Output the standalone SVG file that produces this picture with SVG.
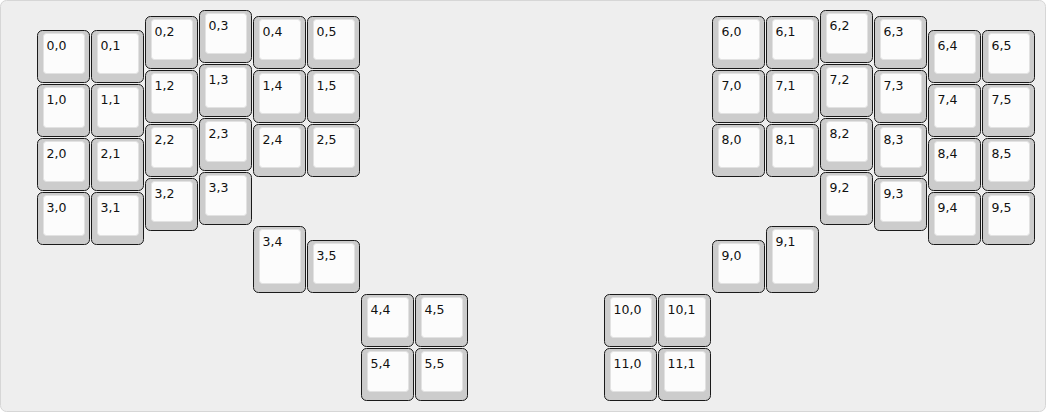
<svg xmlns="http://www.w3.org/2000/svg" width="1046" height="412" viewBox="0 0 1046 412">
<style>
.o{fill:#cccccc;stroke:#1a1a1a;stroke-width:1}
.i{fill:#fcfcfc;stroke:#e2e2e2;stroke-width:1}
.t{font-family:"DejaVu Sans","Liberation Sans",sans-serif;font-size:12.5px;fill:#111}
</style>
<rect x="0.5" y="0.5" width="1045" height="411" rx="6" fill="#eeeeee" stroke="#d6d6d6"/>
<g id="k0_0" transform="translate(37,30)"><rect class="o" x="0.5" y="0.5" width="52" height="52" rx="5"/><rect class="i" x="6.5" y="3.5" width="41" height="40" rx="3"/><text class="t" x="9.5" y="20">0,0</text></g>
<g id="k1_0" transform="translate(37,84)"><rect class="o" x="0.5" y="0.5" width="52" height="52" rx="5"/><rect class="i" x="6.5" y="3.5" width="41" height="40" rx="3"/><text class="t" x="9.5" y="20">1,0</text></g>
<g id="k2_0" transform="translate(37,138)"><rect class="o" x="0.5" y="0.5" width="52" height="52" rx="5"/><rect class="i" x="6.5" y="3.5" width="41" height="40" rx="3"/><text class="t" x="9.5" y="20">2,0</text></g>
<g id="k3_0" transform="translate(37,192)"><rect class="o" x="0.5" y="0.5" width="52" height="52" rx="5"/><rect class="i" x="6.5" y="3.5" width="41" height="40" rx="3"/><text class="t" x="9.5" y="20">3,0</text></g>
<g id="k0_1" transform="translate(91,30)"><rect class="o" x="0.5" y="0.5" width="52" height="52" rx="5"/><rect class="i" x="6.5" y="3.5" width="41" height="40" rx="3"/><text class="t" x="9.5" y="20">0,1</text></g>
<g id="k1_1" transform="translate(91,84)"><rect class="o" x="0.5" y="0.5" width="52" height="52" rx="5"/><rect class="i" x="6.5" y="3.5" width="41" height="40" rx="3"/><text class="t" x="9.5" y="20">1,1</text></g>
<g id="k2_1" transform="translate(91,138)"><rect class="o" x="0.5" y="0.5" width="52" height="52" rx="5"/><rect class="i" x="6.5" y="3.5" width="41" height="40" rx="3"/><text class="t" x="9.5" y="20">2,1</text></g>
<g id="k3_1" transform="translate(91,192)"><rect class="o" x="0.5" y="0.5" width="52" height="52" rx="5"/><rect class="i" x="6.5" y="3.5" width="41" height="40" rx="3"/><text class="t" x="9.5" y="20">3,1</text></g>
<g id="k0_2" transform="translate(145,16)"><rect class="o" x="0.5" y="0.5" width="52" height="52" rx="5"/><rect class="i" x="6.5" y="3.5" width="41" height="40" rx="3"/><text class="t" x="9.5" y="20">0,2</text></g>
<g id="k1_2" transform="translate(145,70)"><rect class="o" x="0.5" y="0.5" width="52" height="52" rx="5"/><rect class="i" x="6.5" y="3.5" width="41" height="40" rx="3"/><text class="t" x="9.5" y="20">1,2</text></g>
<g id="k2_2" transform="translate(145,124)"><rect class="o" x="0.5" y="0.5" width="52" height="52" rx="5"/><rect class="i" x="6.5" y="3.5" width="41" height="40" rx="3"/><text class="t" x="9.5" y="20">2,2</text></g>
<g id="k3_2" transform="translate(145,178)"><rect class="o" x="0.5" y="0.5" width="52" height="52" rx="5"/><rect class="i" x="6.5" y="3.5" width="41" height="40" rx="3"/><text class="t" x="9.5" y="20">3,2</text></g>
<g id="k0_3" transform="translate(199,10)"><rect class="o" x="0.5" y="0.5" width="52" height="52" rx="5"/><rect class="i" x="6.5" y="3.5" width="41" height="40" rx="3"/><text class="t" x="9.5" y="20">0,3</text></g>
<g id="k1_3" transform="translate(199,64)"><rect class="o" x="0.5" y="0.5" width="52" height="52" rx="5"/><rect class="i" x="6.5" y="3.5" width="41" height="40" rx="3"/><text class="t" x="9.5" y="20">1,3</text></g>
<g id="k2_3" transform="translate(199,118)"><rect class="o" x="0.5" y="0.5" width="52" height="52" rx="5"/><rect class="i" x="6.5" y="3.5" width="41" height="40" rx="3"/><text class="t" x="9.5" y="20">2,3</text></g>
<g id="k3_3" transform="translate(199,172)"><rect class="o" x="0.5" y="0.5" width="52" height="52" rx="5"/><rect class="i" x="6.5" y="3.5" width="41" height="40" rx="3"/><text class="t" x="9.5" y="20">3,3</text></g>
<g id="k0_4" transform="translate(253,16)"><rect class="o" x="0.5" y="0.5" width="52" height="52" rx="5"/><rect class="i" x="6.5" y="3.5" width="41" height="40" rx="3"/><text class="t" x="9.5" y="20">0,4</text></g>
<g id="k1_4" transform="translate(253,70)"><rect class="o" x="0.5" y="0.5" width="52" height="52" rx="5"/><rect class="i" x="6.5" y="3.5" width="41" height="40" rx="3"/><text class="t" x="9.5" y="20">1,4</text></g>
<g id="k2_4" transform="translate(253,124)"><rect class="o" x="0.5" y="0.5" width="52" height="52" rx="5"/><rect class="i" x="6.5" y="3.5" width="41" height="40" rx="3"/><text class="t" x="9.5" y="20">2,4</text></g>
<g id="k3_4" transform="translate(253,226)"><rect class="o" x="0.5" y="0.5" width="52" height="66" rx="5"/><rect class="i" x="6.5" y="3.5" width="41" height="54" rx="3"/><text class="t" x="9.5" y="20">3,4</text></g>
<g id="k0_5" transform="translate(307,16)"><rect class="o" x="0.5" y="0.5" width="52" height="52" rx="5"/><rect class="i" x="6.5" y="3.5" width="41" height="40" rx="3"/><text class="t" x="9.5" y="20">0,5</text></g>
<g id="k1_5" transform="translate(307,70)"><rect class="o" x="0.5" y="0.5" width="52" height="52" rx="5"/><rect class="i" x="6.5" y="3.5" width="41" height="40" rx="3"/><text class="t" x="9.5" y="20">1,5</text></g>
<g id="k2_5" transform="translate(307,124)"><rect class="o" x="0.5" y="0.5" width="52" height="52" rx="5"/><rect class="i" x="6.5" y="3.5" width="41" height="40" rx="3"/><text class="t" x="9.5" y="20">2,5</text></g>
<g id="k3_5" transform="translate(307,240)"><rect class="o" x="0.5" y="0.5" width="52" height="52" rx="5"/><rect class="i" x="6.5" y="3.5" width="41" height="40" rx="3"/><text class="t" x="9.5" y="20">3,5</text></g>
<g id="k4_4" transform="translate(361,294)"><rect class="o" x="0.5" y="0.5" width="52" height="52" rx="5"/><rect class="i" x="6.5" y="3.5" width="41" height="40" rx="3"/><text class="t" x="9.5" y="20">4,4</text></g>
<g id="k4_5" transform="translate(415,294)"><rect class="o" x="0.5" y="0.5" width="52" height="52" rx="5"/><rect class="i" x="6.5" y="3.5" width="41" height="40" rx="3"/><text class="t" x="9.5" y="20">4,5</text></g>
<g id="k5_4" transform="translate(361,348)"><rect class="o" x="0.5" y="0.5" width="52" height="52" rx="5"/><rect class="i" x="6.5" y="3.5" width="41" height="40" rx="3"/><text class="t" x="9.5" y="20">5,4</text></g>
<g id="k5_5" transform="translate(415,348)"><rect class="o" x="0.5" y="0.5" width="52" height="52" rx="5"/><rect class="i" x="6.5" y="3.5" width="41" height="40" rx="3"/><text class="t" x="9.5" y="20">5,5</text></g>
<g id="k6_0" transform="translate(712,16)"><rect class="o" x="0.5" y="0.5" width="52" height="52" rx="5"/><rect class="i" x="6.5" y="3.5" width="41" height="40" rx="3"/><text class="t" x="9.5" y="20">6,0</text></g>
<g id="k7_0" transform="translate(712,70)"><rect class="o" x="0.5" y="0.5" width="52" height="52" rx="5"/><rect class="i" x="6.5" y="3.5" width="41" height="40" rx="3"/><text class="t" x="9.5" y="20">7,0</text></g>
<g id="k8_0" transform="translate(712,124)"><rect class="o" x="0.5" y="0.5" width="52" height="52" rx="5"/><rect class="i" x="6.5" y="3.5" width="41" height="40" rx="3"/><text class="t" x="9.5" y="20">8,0</text></g>
<g id="k9_0" transform="translate(712,240)"><rect class="o" x="0.5" y="0.5" width="52" height="52" rx="5"/><rect class="i" x="6.5" y="3.5" width="41" height="40" rx="3"/><text class="t" x="9.5" y="20">9,0</text></g>
<g id="k6_1" transform="translate(766,16)"><rect class="o" x="0.5" y="0.5" width="52" height="52" rx="5"/><rect class="i" x="6.5" y="3.5" width="41" height="40" rx="3"/><text class="t" x="9.5" y="20">6,1</text></g>
<g id="k7_1" transform="translate(766,70)"><rect class="o" x="0.5" y="0.5" width="52" height="52" rx="5"/><rect class="i" x="6.5" y="3.5" width="41" height="40" rx="3"/><text class="t" x="9.5" y="20">7,1</text></g>
<g id="k8_1" transform="translate(766,124)"><rect class="o" x="0.5" y="0.5" width="52" height="52" rx="5"/><rect class="i" x="6.5" y="3.5" width="41" height="40" rx="3"/><text class="t" x="9.5" y="20">8,1</text></g>
<g id="k9_1" transform="translate(766,226)"><rect class="o" x="0.5" y="0.5" width="52" height="66" rx="5"/><rect class="i" x="6.5" y="3.5" width="41" height="54" rx="3"/><text class="t" x="9.5" y="20">9,1</text></g>
<g id="k6_2" transform="translate(820,10)"><rect class="o" x="0.5" y="0.5" width="52" height="52" rx="5"/><rect class="i" x="6.5" y="3.5" width="41" height="40" rx="3"/><text class="t" x="9.5" y="20">6,2</text></g>
<g id="k7_2" transform="translate(820,64)"><rect class="o" x="0.5" y="0.5" width="52" height="52" rx="5"/><rect class="i" x="6.5" y="3.5" width="41" height="40" rx="3"/><text class="t" x="9.5" y="20">7,2</text></g>
<g id="k8_2" transform="translate(820,118)"><rect class="o" x="0.5" y="0.5" width="52" height="52" rx="5"/><rect class="i" x="6.5" y="3.5" width="41" height="40" rx="3"/><text class="t" x="9.5" y="20">8,2</text></g>
<g id="k9_2" transform="translate(820,172)"><rect class="o" x="0.5" y="0.5" width="52" height="52" rx="5"/><rect class="i" x="6.5" y="3.5" width="41" height="40" rx="3"/><text class="t" x="9.5" y="20">9,2</text></g>
<g id="k6_3" transform="translate(874,16)"><rect class="o" x="0.5" y="0.5" width="52" height="52" rx="5"/><rect class="i" x="6.5" y="3.5" width="41" height="40" rx="3"/><text class="t" x="9.5" y="20">6,3</text></g>
<g id="k7_3" transform="translate(874,70)"><rect class="o" x="0.5" y="0.5" width="52" height="52" rx="5"/><rect class="i" x="6.5" y="3.5" width="41" height="40" rx="3"/><text class="t" x="9.5" y="20">7,3</text></g>
<g id="k8_3" transform="translate(874,124)"><rect class="o" x="0.5" y="0.5" width="52" height="52" rx="5"/><rect class="i" x="6.5" y="3.5" width="41" height="40" rx="3"/><text class="t" x="9.5" y="20">8,3</text></g>
<g id="k9_3" transform="translate(874,178)"><rect class="o" x="0.5" y="0.5" width="52" height="52" rx="5"/><rect class="i" x="6.5" y="3.5" width="41" height="40" rx="3"/><text class="t" x="9.5" y="20">9,3</text></g>
<g id="k6_4" transform="translate(928,30)"><rect class="o" x="0.5" y="0.5" width="52" height="52" rx="5"/><rect class="i" x="6.5" y="3.5" width="41" height="40" rx="3"/><text class="t" x="9.5" y="20">6,4</text></g>
<g id="k7_4" transform="translate(928,84)"><rect class="o" x="0.5" y="0.5" width="52" height="52" rx="5"/><rect class="i" x="6.5" y="3.5" width="41" height="40" rx="3"/><text class="t" x="9.5" y="20">7,4</text></g>
<g id="k8_4" transform="translate(928,138)"><rect class="o" x="0.5" y="0.5" width="52" height="52" rx="5"/><rect class="i" x="6.5" y="3.5" width="41" height="40" rx="3"/><text class="t" x="9.5" y="20">8,4</text></g>
<g id="k9_4" transform="translate(928,192)"><rect class="o" x="0.5" y="0.5" width="52" height="52" rx="5"/><rect class="i" x="6.5" y="3.5" width="41" height="40" rx="3"/><text class="t" x="9.5" y="20">9,4</text></g>
<g id="k6_5" transform="translate(982,30)"><rect class="o" x="0.5" y="0.5" width="52" height="52" rx="5"/><rect class="i" x="6.5" y="3.5" width="41" height="40" rx="3"/><text class="t" x="9.5" y="20">6,5</text></g>
<g id="k7_5" transform="translate(982,84)"><rect class="o" x="0.5" y="0.5" width="52" height="52" rx="5"/><rect class="i" x="6.5" y="3.5" width="41" height="40" rx="3"/><text class="t" x="9.5" y="20">7,5</text></g>
<g id="k8_5" transform="translate(982,138)"><rect class="o" x="0.5" y="0.5" width="52" height="52" rx="5"/><rect class="i" x="6.5" y="3.5" width="41" height="40" rx="3"/><text class="t" x="9.5" y="20">8,5</text></g>
<g id="k9_5" transform="translate(982,192)"><rect class="o" x="0.5" y="0.5" width="52" height="52" rx="5"/><rect class="i" x="6.5" y="3.5" width="41" height="40" rx="3"/><text class="t" x="9.5" y="20">9,5</text></g>
<g id="k10_0" transform="translate(604,294)"><rect class="o" x="0.5" y="0.5" width="52" height="52" rx="5"/><rect class="i" x="6.5" y="3.5" width="41" height="40" rx="3"/><text class="t" x="9.5" y="20">10,0</text></g>
<g id="k10_1" transform="translate(658,294)"><rect class="o" x="0.5" y="0.5" width="52" height="52" rx="5"/><rect class="i" x="6.5" y="3.5" width="41" height="40" rx="3"/><text class="t" x="9.5" y="20">10,1</text></g>
<g id="k11_0" transform="translate(604,348)"><rect class="o" x="0.5" y="0.5" width="52" height="52" rx="5"/><rect class="i" x="6.5" y="3.5" width="41" height="40" rx="3"/><text class="t" x="9.5" y="20">11,0</text></g>
<g id="k11_1" transform="translate(658,348)"><rect class="o" x="0.5" y="0.5" width="52" height="52" rx="5"/><rect class="i" x="6.5" y="3.5" width="41" height="40" rx="3"/><text class="t" x="9.5" y="20">11,1</text></g>
<g id="connectors"/>
</svg>
